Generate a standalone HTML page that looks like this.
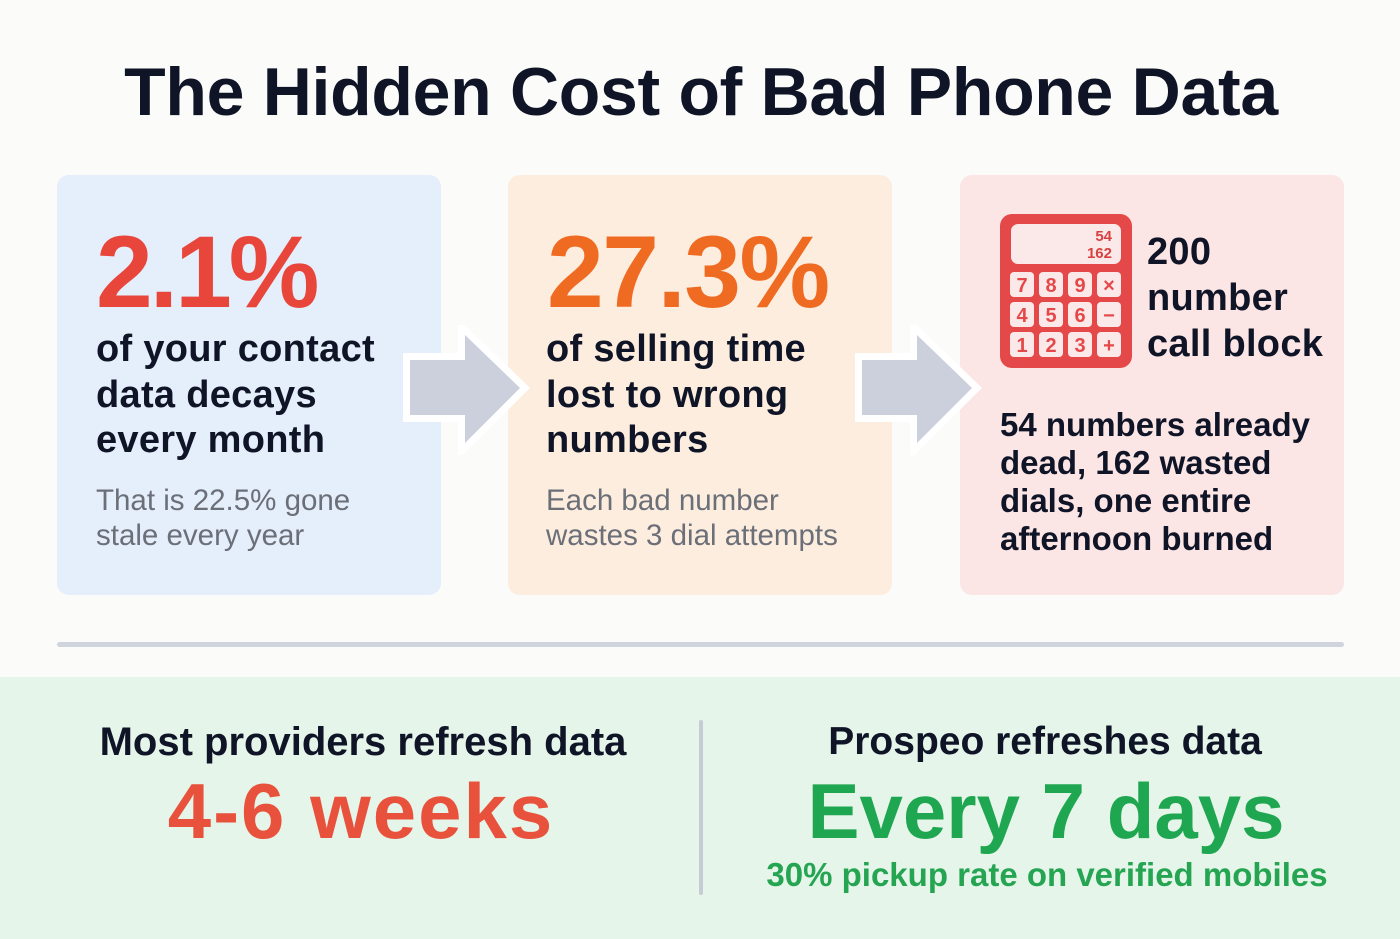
<!DOCTYPE html>
<html><head><meta charset="utf-8"><style>
*{margin:0;padding:0;box-sizing:border-box}
body{width:1400px;height:939px;background:#fbfbfa;font-family:"Liberation Sans",sans-serif;position:relative;overflow:hidden;color:#0f1426}
.a{position:absolute;white-space:nowrap}
.card{position:absolute;top:175px;width:384px;height:420px;border-radius:12px}
.big{font-weight:bold;font-size:102px;letter-spacing:-3px;line-height:1}
.body{font-weight:bold;font-size:38px;line-height:45.5px;letter-spacing:0.3px}
.grey{font-size:29.5px;line-height:35px;color:#6b6f78}
.c{text-align:center;transform:translateX(-50%)}
</style></head><body>
<div class="a c" style="left:701px;top:53px;font-size:68px;font-weight:bold;letter-spacing:-0.3px">The Hidden Cost of Bad Phone Data</div>

<div class="card" style="left:57px;background:#e5eefb"></div>
<div class="card" style="left:508px;background:#fdeddf"></div>
<div class="card" style="left:960px;background:#fbe5e5"></div>

<svg class="a" style="left:395px;top:325px" width="140" height="130"><path d="M15 35 H70 V10 L125 63 L70 118 V90 H15 Z" fill="#cbd0dc" stroke="#fff" stroke-width="14" stroke-linejoin="miter" paint-order="stroke"/></svg>
<svg class="a" style="left:847px;top:325px" width="140" height="130"><path d="M15 35 H70 V10 L125 63 L70 118 V90 H15 Z" fill="#cbd0dc" stroke="#fff" stroke-width="14" stroke-linejoin="miter" paint-order="stroke"/></svg>

<div class="a big" style="left:96px;top:221px;color:#e8453b">2.1%</div>
<div class="a body" style="left:96px;top:327px">of your contact<br>data decays<br>every month</div>
<div class="a grey" style="left:96px;top:483px">That is 22.5% gone<br>stale every year</div>

<div class="a big" style="left:547px;top:221px;color:#f06b22;letter-spacing:-1.5px">27.3%</div>
<div class="a body" style="left:546px;top:327px">of selling time<br>lost to wrong<br>numbers</div>
<div class="a grey" style="left:546px;top:483px">Each bad number<br>wastes 3 dial attempts</div>

<svg class="a" style="left:1000px;top:214px" width="132" height="154">
<rect x="0" y="0" width="132" height="154" rx="12" fill="#e54848"/>
<rect x="11" y="10" width="110" height="40" rx="7" fill="#fbe9e9"/>
<text x="112" y="27" text-anchor="end" font-size="15" font-weight="bold" fill="#d84040" font-family="Liberation Sans">54</text>
<text x="112" y="44" text-anchor="end" font-size="15" font-weight="bold" fill="#d84040" font-family="Liberation Sans">162</text>
<g font-family="Liberation Sans" font-size="20" font-weight="bold" fill="#e54848" text-anchor="middle">
<rect x="10" y="58" width="24" height="25" rx="4" fill="#fbe9e9"/><text x="22" y="78">7</text>
<rect x="39" y="58" width="24" height="25" rx="4" fill="#fbe9e9"/><text x="51" y="78">8</text>
<rect x="68" y="58" width="24" height="25" rx="4" fill="#fbe9e9"/><text x="80" y="78">9</text>
<rect x="97" y="58" width="24" height="25" rx="4" fill="#fbe9e9"/><text x="109" y="78">×</text>
<rect x="10" y="88" width="24" height="25" rx="4" fill="#fbe9e9"/><text x="22" y="108">4</text>
<rect x="39" y="88" width="24" height="25" rx="4" fill="#fbe9e9"/><text x="51" y="108">5</text>
<rect x="68" y="88" width="24" height="25" rx="4" fill="#fbe9e9"/><text x="80" y="108">6</text>
<rect x="97" y="88" width="24" height="25" rx="4" fill="#fbe9e9"/><text x="109" y="108">−</text>
<rect x="10" y="118" width="24" height="25" rx="4" fill="#fbe9e9"/><text x="22" y="138">1</text>
<rect x="39" y="118" width="24" height="25" rx="4" fill="#fbe9e9"/><text x="51" y="138">2</text>
<rect x="68" y="118" width="24" height="25" rx="4" fill="#fbe9e9"/><text x="80" y="138">3</text>
<rect x="97" y="118" width="24" height="25" rx="4" fill="#fbe9e9"/><text x="109" y="138">+</text>
</g></svg>
<div class="a body" style="left:1147px;top:229px;line-height:46px">200<br>number<br>call block</div>
<div class="a" style="left:1000px;top:406px;font-weight:bold;font-size:33px;line-height:38px">54 numbers already<br>dead, 162 wasted<br>dials, one entire<br>afternoon burned</div>

<div class="a" style="left:57px;top:642px;width:1287px;height:5px;border-radius:3px;background:#cfd4dd"></div>
<div class="a" style="left:0;top:677px;width:1400px;height:262px;background:#e6f5ea"></div>
<div class="a" style="left:699px;top:720px;width:4px;height:175px;background:#c5ccd4;border-radius:2px"></div>

<div class="a c" style="left:363px;top:720px;font-size:40px;font-weight:bold">Most providers refresh data</div>
<div class="a c" style="left:361px;top:766px;font-size:78px;font-weight:bold;color:#e8523c;letter-spacing:2px">4-6 weeks</div>
<div class="a c" style="left:1045px;top:720px;font-size:39px;font-weight:bold">Prospeo refreshes data</div>
<div class="a c" style="left:1046px;top:766px;font-size:78px;font-weight:bold;color:#1fa650">Every 7 days</div>
<div class="a c" style="left:1047px;top:856px;font-size:33px;font-weight:bold;color:#25a552">30% pickup rate on verified mobiles</div>
</body></html>
